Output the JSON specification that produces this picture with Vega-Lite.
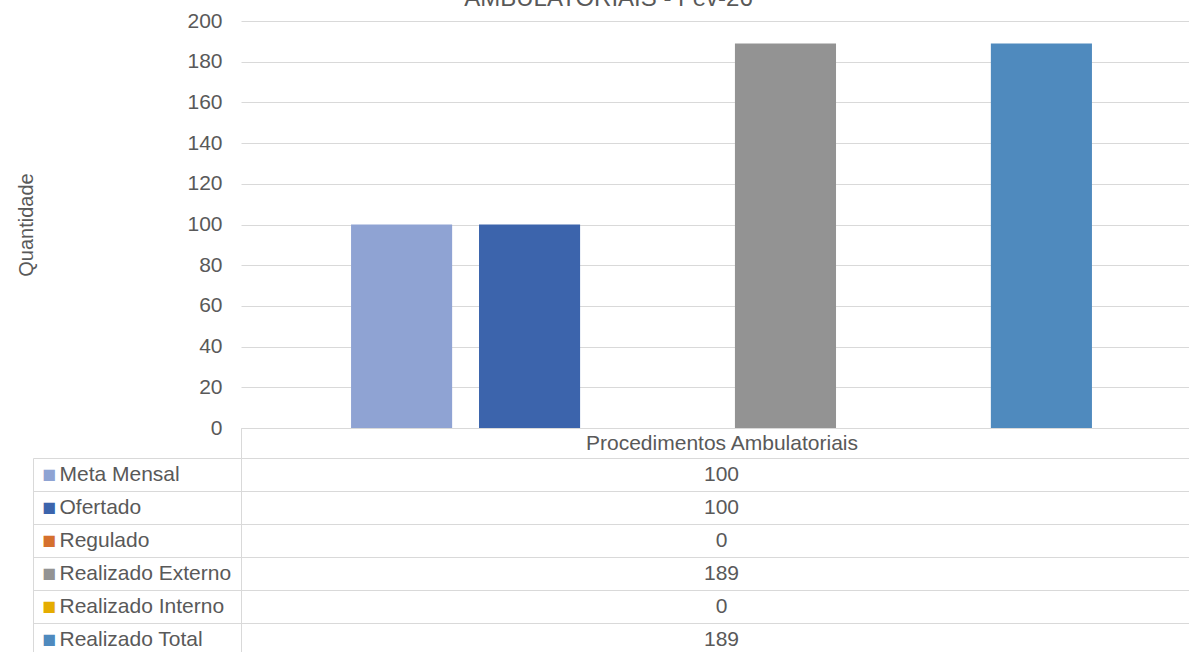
{
  "$schema": "https://vega.github.io/schema/vega-lite/v6.json",
  "background": "white",
  "padding": {"left": 16, "top": -13, "right": 0, "bottom": 0},
  "config": {"font": "Liberation Sans", "view": {"stroke": null}},
  "datasets": {
    "d": [
      {"categoria": "Procedimentos Ambulatoriais", "serie": "Meta Mensal", "valor": 100},
      {"categoria": "Procedimentos Ambulatoriais", "serie": "Ofertado", "valor": 100},
      {"categoria": "Procedimentos Ambulatoriais", "serie": "Regulado", "valor": 0},
      {"categoria": "Procedimentos Ambulatoriais", "serie": "Realizado Externo", "valor": 189},
      {"categoria": "Procedimentos Ambulatoriais", "serie": "Realizado Interno", "valor": 0},
      {"categoria": "Procedimentos Ambulatoriais", "serie": "Realizado Total", "valor": 189}
    ]
  },
  "bounds": "flush",
  "spacing": 30,
  "vconcat": [
    {
      "title": {"text": "AMBULATORIAIS - Fev-26", "fontSize": 24, "fontWeight": "normal", "color": "#595959", "dx": -113, "offset": -1},
      "width": 961,
      "height": 407,
      "data": {"name": "d"},
      "mark": {"type": "bar"},
      "encoding": {
        "x": {
          "field": "categoria", "type": "nominal",
          "scale": {"paddingInner": 0, "paddingOuter": 0},
          "axis": {"title": null, "labelAngle": 0, "labelFontSize": 21, "labelColor": "#595959", "labelPadding": -26, "labelLimit": 0,
                   "domainColor": "#D9D9D9", "tickColor": "#D9D9D9", "tickBand": "extent", "tickSize": 30, "grid": false}
        },
        "xOffset": {
          "field": "serie", "type": "nominal",
          "sort": ["Meta Mensal", "Ofertado", "Regulado", "Realizado Externo", "Realizado Interno", "Realizado Total"],
          "scale": {"paddingInner": 0.21, "paddingOuter": 0.86}
        },
        "y": {
          "field": "valor", "type": "quantitative",
          "scale": {"domain": [0, 200]},
          "axis": {"title": "Quantidade", "titleFontSize": 20, "titleFontWeight": "normal", "titleColor": "#595959", "titlePadding": 150,
                   "values": [0, 20, 40, 60, 80, 100, 120, 140, 160, 180, 200],
                   "labelFontSize": 21, "labelColor": "#595959", "labelPadding": 19,
                   "domain": false, "ticks": false, "gridColor": "#D9D9D9"}
        },
        "color": {
          "field": "serie", "type": "nominal",
          "scale": {
            "domain": ["Meta Mensal", "Ofertado", "Regulado", "Realizado Externo", "Realizado Interno", "Realizado Total"],
            "range": ["#8FA3D3", "#3C64AC", "#D5702E", "#939393", "#E5AC00", "#4F8ABE"]
          },
          "legend": null
        }
      }
    },
    {
      "width": 961,
      "height": 198,
      "data": {"name": "d"},
      "layer": [
        {
          "mark": {"type": "text", "fontSize": 21, "color": "#595959"},
          "encoding": {
            "y": {
              "field": "serie", "type": "nominal",
              "sort": ["Meta Mensal", "Ofertado", "Regulado", "Realizado Externo", "Realizado Interno", "Realizado Total"],
              "scale": {"paddingInner": 0, "paddingOuter": 0},
              "axis": {"orient": "left", "title": null, "labels": false, "domain": true, "domainColor": "#D9D9D9",
                       "ticks": true, "tickSize": 208, "tickColor": "#D9D9D9", "tickBand": "extent",
                       "grid": true, "gridColor": "#D9D9D9"}
            },
            "text": {"field": "valor", "type": "quantitative"}
          }
        },
        {
          "mark": {"type": "text", "opacity": 0},
          "encoding": {
            "y": {
              "field": "serie", "type": "nominal",
              "sort": ["Meta Mensal", "Ofertado", "Regulado", "Realizado Externo", "Realizado Interno", "Realizado Total"],
              "axis": {"orient": "left", "offset": 208, "title": null, "domain": true, "domainColor": "#D9D9D9",
                       "ticks": false, "grid": false, "labelAlign": "left", "labelPadding": -26, "labelLimit": 0,
                       "labelFontSize": 21, "labelColor": "#595959"}
            },
            "text": {"field": "valor", "type": "quantitative"}
          }
        },
        {
          "mark": {"type": "text", "opacity": 0},
          "encoding": {
            "y": {
              "field": "serie", "type": "nominal",
              "sort": ["Meta Mensal", "Ofertado", "Regulado", "Realizado Externo", "Realizado Interno", "Realizado Total"],
              "axis": {"orient": "left", "offset": 208, "title": null, "domain": false,
                       "ticks": false, "grid": false, "labelAlign": "left", "labelPadding": -9, "labelLimit": 0,
                       "labelExpr": "'■'", "labelFontSize": 23,
                       "labelColor": {
                         "condition": [
                           {"test": "datum.value == 'Meta Mensal'", "value": "#8FA3D3"},
                           {"test": "datum.value == 'Ofertado'", "value": "#3C64AC"},
                           {"test": "datum.value == 'Regulado'", "value": "#D5702E"},
                           {"test": "datum.value == 'Realizado Externo'", "value": "#939393"},
                           {"test": "datum.value == 'Realizado Interno'", "value": "#E5AC00"}
                         ],
                         "value": "#4F8ABE"
                       }}
            },
            "text": {"field": "valor", "type": "quantitative"}
          }
        }
      ],
      "resolve": {"axis": {"y": "independent"}}
    }
  ]
}
